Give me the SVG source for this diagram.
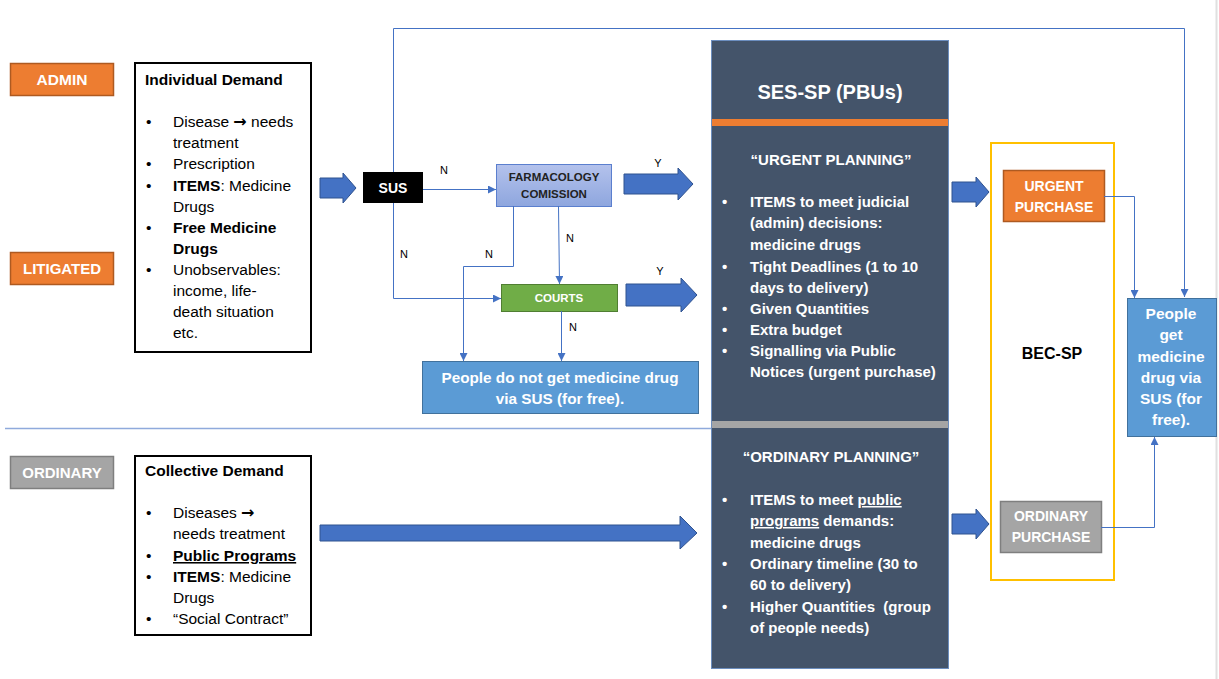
<svg xmlns="http://www.w3.org/2000/svg" width="1219" height="679" viewBox="0 0 1219 679">
<defs>
<style>
.t{font-family:"Liberation Sans",Arial,sans-serif;}
.lab{font-family:"Liberation Sans",Arial,sans-serif;font-weight:bold;fill:#fff;text-anchor:middle;}
.body{font-family:"Liberation Sans",Arial,sans-serif;font-size:15.5px;fill:#000;}
.arr{font-family:"DejaVu Sans",sans-serif;font-size:16px;font-weight:bold;}
.wb{font-family:"Liberation Sans",Arial,sans-serif;font-size:15px;font-weight:bold;fill:#fff;}
.nl{font-family:"Liberation Sans",Arial,sans-serif;font-size:11px;fill:#000;}
.conn{fill:none;stroke:#4472C4;stroke-width:1;}
.barrow{fill:#4472C4;stroke:#2F528F;stroke-width:1;}
.orange{fill:#ED7D31;stroke:#AE5A21;stroke-width:1.5;}
.gray{fill:#A5A5A5;stroke:#7F7F7F;stroke-width:1.5;}
.demand{fill:#fff;stroke:#000;stroke-width:2;}
</style>
<marker id="ah" viewBox="0 0 10 10" refX="10" refY="5" markerWidth="8" markerHeight="8" markerUnits="userSpaceOnUse" orient="auto">
<path d="M0,0 L10,5 L0,10 Z" fill="#4472C4"/>
</marker>
<linearGradient id="farm" x1="0" y1="0" x2="0" y2="1">
<stop offset="0" stop-color="#B4C2EC"/>
<stop offset="1" stop-color="#8EA6DE"/>
</linearGradient>
</defs>
<rect width="1219" height="679" fill="#fff"/>
<line x1="1216.5" y1="0" x2="1216.5" y2="679" stroke="#E0E0E0" stroke-width="2"/>

<!-- separator -->
<line x1="5" y1="428.5" x2="712" y2="428.5" stroke="#8FAADC" stroke-width="1.5"/>

<g id="admin"><rect x="10.5" y="63.5" width="103" height="32" class="orange"/><text x="62" y="85" class="lab" font-size="15.5">ADMIN</text></g>
<g id="litigated"><rect x="10.5" y="252.5" width="103" height="32" class="orange"/><text x="62" y="274" class="lab" font-size="15">LITIGATED</text></g>
<g id="ordinary"><rect x="10.5" y="456.5" width="103" height="32" class="gray"/><text x="62" y="478" class="lab" font-size="15">ORDINARY</text></g>

<g id="individual-demand">
<rect x="135" y="63" width="176" height="289" class="demand"/>
<text x="145" y="85" class="body" font-weight="bold">Individual Demand</text>
<g class="body">
<text x="146" y="127">•</text><text x="173" y="127">Disease <tspan class="arr">→</tspan> needs</text>
<text x="173" y="148">treatment</text>
<text x="146" y="169">•</text><text x="173" y="169">Prescription</text>
<text x="146" y="191">•</text><text x="173" y="191"><tspan font-weight="bold">ITEMS</tspan>: Medicine</text>
<text x="173" y="212">Drugs</text>
<text x="146" y="233">•</text><text x="173" y="233" font-weight="bold">Free Medicine</text>
<text x="173" y="254" font-weight="bold">Drugs</text>
<text x="146" y="275">•</text><text x="173" y="275">Unobservables:</text>
<text x="173" y="296">income, life-</text>
<text x="173" y="317">death situation</text>
<text x="173" y="338">etc.</text>
</g>
</g>

<g id="collective-demand">
<rect x="135" y="456" width="176" height="179" class="demand"/>
<text x="145" y="476" class="body" font-weight="bold">Collective Demand</text>
<g class="body">
<text x="146" y="518">•</text><text x="173" y="518">Diseases <tspan class="arr">→</tspan></text>
<text x="173" y="539">needs treatment</text>
<text x="146" y="561">•</text><text x="173" y="561" font-weight="bold" text-decoration="underline">Public Programs</text>
<text x="146" y="582">•</text><text x="173" y="582"><tspan font-weight="bold">ITEMS</tspan>: Medicine</text>
<text x="173" y="603">Drugs</text>
<text x="146" y="624">•</text><text x="173" y="624">“Social Contract”</text>
</g>
</g>

<g id="sus"><rect x="363" y="172" width="60" height="31" fill="#000"/><text x="393" y="193" class="lab" font-size="14">SUS</text></g>

<g id="farmacology"><rect x="496.5" y="164.5" width="115" height="42" fill="url(#farm)" stroke="#5B7FCE" stroke-width="1"/>
<text x="554" y="181" class="t" font-size="11.5" font-weight="bold" fill="#222" text-anchor="middle">FARMACOLOGY</text>
<text x="554" y="198" class="t" font-size="11.5" font-weight="bold" fill="#222" text-anchor="middle">COMISSION</text></g>

<g id="courts"><rect x="501.5" y="284.5" width="116" height="27" fill="#70AD47" stroke="#507E32" stroke-width="1"/><text x="559" y="302" class="lab" font-size="11.5">COURTS</text></g>

<g id="no-drug"><rect x="422.5" y="361.5" width="276" height="52" fill="#5B9BD5" stroke="#41719C" stroke-width="1"/>
<text x="560" y="383" class="lab" font-size="15.3">People do not get medicine drug</text>
<text x="560" y="404" class="lab" font-size="15.3">via SUS (for free).</text></g>

<g id="ses-sp">
<rect x="711.5" y="40.5" width="237" height="628" fill="#44546A" stroke="#6C8EBF" stroke-width="1"/>
<rect x="712" y="119" width="236" height="7" fill="#ED7D31"/>
<rect x="712" y="421" width="236" height="7" fill="#A5A5A5"/>
<text x="830" y="99" class="lab" font-size="20">SES-SP (PBUs)</text>
<text x="831" y="165" class="lab" font-size="15">“URGENT PLANNING”</text>
<g class="wb">
<text x="722" y="207">•</text><text x="750" y="207">ITEMS to meet judicial</text>
<text x="750" y="228">(admin) decisions:</text>
<text x="750" y="250">medicine drugs</text>
<text x="722" y="272">•</text><text x="750" y="272">Tight Deadlines (1 to 10</text>
<text x="750" y="293">days to delivery)</text>
<text x="722" y="314">•</text><text x="750" y="314">Given Quantities</text>
<text x="722" y="335">•</text><text x="750" y="335">Extra budget</text>
<text x="722" y="356">•</text><text x="750" y="356">Signalling via Public</text>
<text x="750" y="377">Notices (urgent purchase)</text>
</g>
<text x="831" y="462" class="lab" font-size="15">“ORDINARY PLANNING”</text>
<g class="wb">
<text x="722" y="505">•</text><text x="750" y="505">ITEMS to meet <tspan text-decoration="underline">public</tspan></text>
<text x="750" y="526"><tspan text-decoration="underline">programs</tspan> demands:</text>
<text x="750" y="548">medicine drugs</text>
<text x="722" y="569">•</text><text x="750" y="569">Ordinary timeline (30 to</text>
<text x="750" y="590">60 to delivery)</text>
<text x="722" y="612">•</text><text x="750" y="612" xml:space="preserve">Higher Quantities  (group</text>
<text x="750" y="633">of people needs)</text>
</g>
</g>

<g id="bec-sp">
<rect x="991" y="143" width="123" height="437" fill="none" stroke="#FFC000" stroke-width="2"/>
<text x="1052" y="359" class="t" font-size="16" font-weight="bold" fill="#000" text-anchor="middle">BEC-SP</text>
</g>

<g id="urgent-purchase"><rect x="1003.5" y="170.5" width="101" height="51" class="orange"/>
<text x="1054" y="191" class="lab" font-size="14">URGENT</text><text x="1054" y="212" class="lab" font-size="14">PURCHASE</text></g>

<g id="ordinary-purchase"><rect x="1000.5" y="501.5" width="101" height="51" class="gray"/>
<text x="1051" y="521" class="lab" font-size="14">ORDINARY</text><text x="1051" y="542" class="lab" font-size="14">PURCHASE</text></g>

<g id="get-drug"><rect x="1127.5" y="298.5" width="89" height="138" fill="#5B9BD5" stroke="#41719C" stroke-width="1"/>
<g class="lab" font-size="15.5">
<text x="1171" y="319">People</text>
<text x="1171" y="340">get</text>
<text x="1171" y="362">medicine</text>
<text x="1171" y="383">drug via</text>
<text x="1171" y="404">SUS (for</text>
<text x="1171" y="425">free).</text>
</g></g>

<g id="connectors">
<path class="barrow" d="M320,178 H343 V173 L356,188 L343,203 V198 H320 Z"/>
<path class="barrow" d="M624,174 H678 V168 L693,184 L678,200 V194 H624 Z"/>
<path class="barrow" d="M626,284 H681 V278 L697,295 L681,312 V306 H626 Z"/>
<path class="barrow" d="M320,525 H680 V516 L697,533 L680,549 V541 H320 Z"/>
<path class="barrow" d="M952,182 H976 V177 L989,192 L976,207 V202 H952 Z"/>
<path class="barrow" d="M952,514 H976 V509 L989,524 L976,539 V534 H952 Z"/>
<path class="conn" d="M393.5,172 V28.5 H1184.5 V297" marker-end="url(#ah)"/>
<path class="conn" d="M423,189.5 H496" marker-end="url(#ah)"/>
<path class="conn" d="M393.5,203 V298.5 H501" marker-end="url(#ah)"/>
<path class="conn" d="M513.5,206 V266.5 H463.5 V361" marker-end="url(#ah)"/>
<path class="conn" d="M558.5,206 L559.5,284" marker-end="url(#ah)"/>
<path class="conn" d="M561.5,311 V361" marker-end="url(#ah)"/>
<path class="conn" d="M1104,196.5 H1134.5 V298" marker-end="url(#ah)"/>
<path class="conn" d="M1101,527.5 H1154.5 V437" marker-end="url(#ah)"/>
<text x="444" y="174" class="nl" text-anchor="middle">N</text>
<text x="404" y="258" class="nl" text-anchor="middle">N</text>
<text x="489" y="258" class="nl" text-anchor="middle">N</text>
<text x="570" y="242" class="nl" text-anchor="middle">N</text>
<text x="573" y="331" class="nl" text-anchor="middle">N</text>
<text x="658" y="167" class="nl" text-anchor="middle">Y</text>
<text x="660" y="275" class="nl" text-anchor="middle">Y</text>
</g>
</svg>
